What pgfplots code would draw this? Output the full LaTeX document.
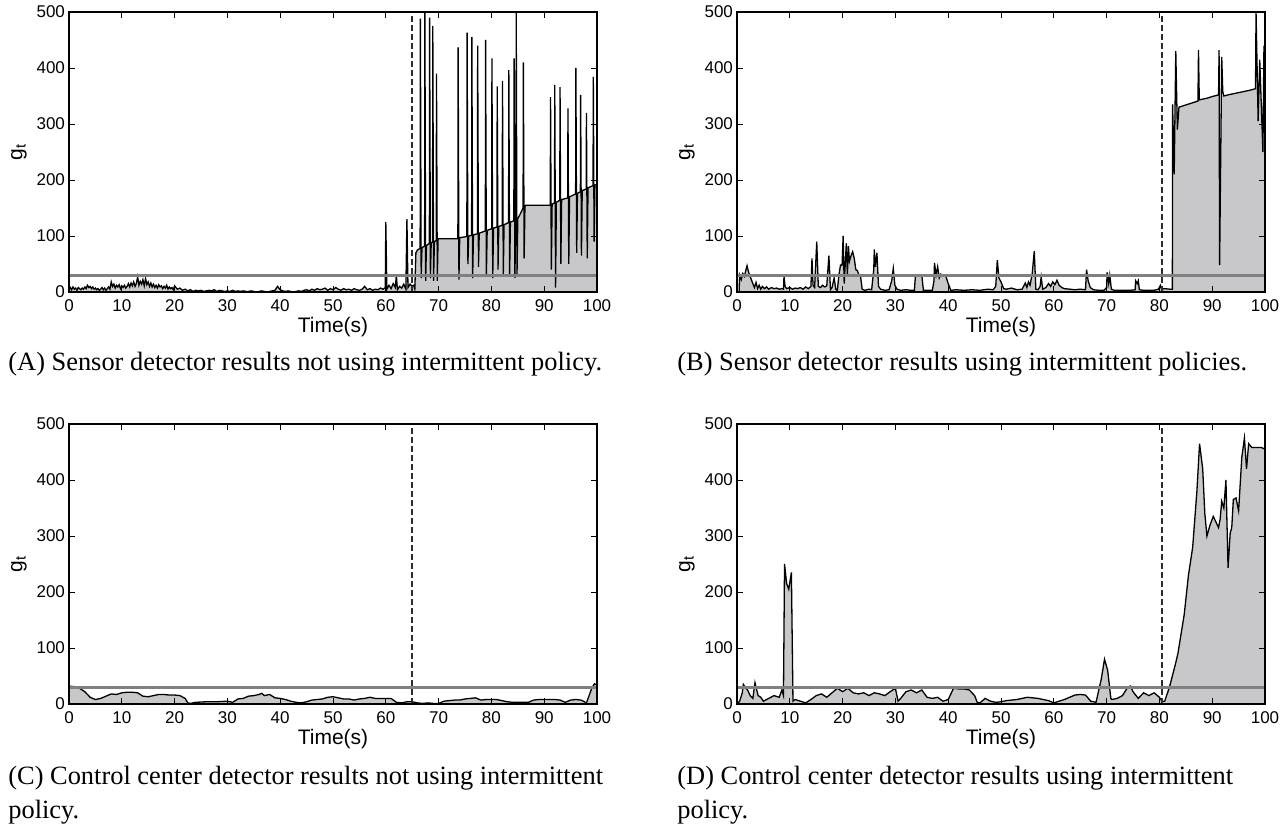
\documentclass[border=0pt]{standalone}
\usepackage{pgfplots}
\pgfplotsset{compat=1.18}
\usepackage{pgfplotstable}
\usepackage{fontspec}
\setmainfont{Liberation Serif}
\newfontfamily\arial{Liberation Sans}
\definecolor{fillgray}{RGB}{200,200,202}
\definecolor{thrgray}{RGB}{128,128,128}
\definecolor{dashgray}{RGB}{45,45,45}

\pgfplotstableread{
x y
0 3
0.25 8
0.5 4
0.75 9
1 5
1.25 7
1.5 3
1.75 8
2 6
2.25 4
2.5 7
2.75 5
3 9
3.25 6
3.5 12
3.75 8
4 10
4.25 6
4.5 9
4.75 5
5 7
5.25 4
5.5 6
5.75 3
6 5
6.25 8
6.5 4
6.75 7
7 3
7.25 6
7.5 9
7.75 5
8 18
8.25 10
8.5 14
8.75 7
9 12
9.25 9
9.5 13
9.75 6
10 11
10.25 8
10.5 12
10.75 7
11 10
11.25 15
11.5 9
11.75 16
12 11
12.25 18
12.5 10
12.75 15
13 27
13.25 12
13.5 19
13.75 14
14 22
14.25 11
14.5 24
14.75 13
15 18
15.25 10
15.5 16
15.75 9
16 14
16.25 8
16.5 12
16.75 7
17 13
17.25 9
17.5 11
17.75 6
18 10
18.25 7
18.5 12
18.75 5
19 9
19.25 6
19.5 8
19.75 4
20 11
20.5 5
21 7
21.5 3
22 5
22.5 2
23 4
23.5 1
24 3
24.5 2
25 3
25.5 1
26 2
26.5 3
27 2
27.5 4
28 1
28.5 3
29 2
29.5 1
30 2
30.5 1
31 3
31.5 1
32 2
32.5 1
33 2
33.5 1
34 1
34.5 2
35 1
35.5 0
36 1
36.5 2
37 1
37.5 0
38 1
38.5 2
39 3
39.5 10
40 4
40.5 2
41 1
41.5 2
42 1
42.5 0
43 1
43.5 2
44 1
44.5 3
45 4
45.5 2
46 5
46.5 3
47 6
47.5 4
48 5
48.5 7
49 3
49.5 6
50 4
50.5 8
51 5
51.5 3
52 6
52.5 4
53 5
53.5 3
54 6
54.5 4
55 3
55.5 5
56 10
56.5 4
57 6
57.5 3
58 5
58.5 4
59 7
59.5 5
59.9 8
60 125
60.2 5
60.6 12
61 6
61.4 15
61.8 8
62 30
62.2 4
62.6 10
63 7
63.4 14
63.8 5
64 130
64.2 8
64.6 14
65 10
65.3 12
65.5 5
65.7 70
66 75
66.5 78
66.55 488
66.7 25
66.85 79
67 80
67.35 82
67.4 500
67.55 20
67.7 83
68 85
68.25 87
68.3 490
68.45 25
68.6 88
68.85 89
68.9 475
69.05 20
69.2 90
69.55 92
69.6 390
69.75 20
69.9 94
70 95
73.65 95
73.7 437
73.85 22
74 97
75.35 99
75.4 463
75.55 50
75.7 100
76.25 101
76.3 455
76.45 25
76.6 102
77.35 104
77.4 440
77.55 45
77.7 105
78.85 109
78.9 450
79.05 30
79.2 110
80.05 113
80.1 417
80.25 25
80.4 114
81.05 116
81.1 367
81.25 40
81.4 117
82.05 119
82.1 377
82.25 30
82.4 120
83.25 124
83.3 396
83.45 30
83.6 125
84.25 127
84.3 417
84.45 25
84.6 128
84.65 129
84.7 500
84.85 30
85 131
85.5 140
86 150
86.05 410
86.2 60
86.35 152
86.5 155
91.15 155
91.2 348
91.35 40
91.5 157
91.95 159
92 370
92.15 8
92.3 160
92.95 164
93 366
93.15 50
93.3 165
94.45 168
94.5 328
94.65 50
94.8 170
95.95 175
96 400
96.15 70
96.3 176
96.85 179
96.9 352
97.05 65
97.2 181
97.95 184
98 320
98.15 60
98.3 186
99.25 190
99.3 384
99.45 90
99.6 191
100 192
}\dataA

\pgfplotstableread{
x y
0 0
0.4 0
0.5 30
0.8 22
1.1 33
1.4 28
1.7 40
1.9 47
2.2 35
2.6 25
3 15
3.3 8
3.6 17
3.9 6
4.2 12
4.5 5
4.8 10
5.2 6
5.6 9
6 5
6.5 8
7 6
7.5 7
8 5
8.5 6
8.8 5
8.9 28
9.1 10
9.4 6
10 8
10.5 5
11 7
11.5 6
12 8
12.5 5
13 9
13.5 6
14 10
14.2 60
14.4 12
14.7 8
15.1 90
15.4 10
15.8 8
16.2 12
16.6 9
17 11
17.4 65
17.7 4
18 8
18.4 25
18.7 5
19 3
19.3 30
19.6 48
19.9 48
20.1 100
20.3 15
20.5 50
20.7 87
20.9 30
21.1 82
21.3 55
21.6 65
21.9 72
22.2 60
22.5 40
22.8 38
23.1 30
23.4 28
23.7 5
24.2 3
25 5
25.5 4
25.9 40
26 76
26.2 45
26.5 70
26.8 10
27.2 5
28 3
28.8 4
29.3 20
29.6 42
29.9 12
30.3 5
31 3
32 4
33 3
33.6 3
33.8 30
34.5 30
35 30
35.3 3
36 3
37 3
37.3 20
37.4 52
37.7 30
38 45
38.3 25
38.6 32
39 28
39.5 30
40 15
40.5 3
41.5 4
43 3
44.5 4
46 3
47.5 5
48.5 4
49 10
49.3 57
49.6 25
50 18
50.5 6
51 5
52 7
53 4
54 5
54.6 16
54.9 8
55.2 18
55.5 12
55.9 32
56.3 73
56.6 5
57 4
57.4 10
57.6 27
57.9 5
58.5 8
59 15
59.4 10
59.8 18
60.2 13
60.6 21
61 12
61.5 8
62 6
63 5
64 4
65 5
66 4
66.2 40
66.5 20
66.9 8
67.5 4
68.5 3
69.5 3
70 8
70.1 35
70.4 15
70.6 30
70.9 5
71.5 3
73 3
74.5 3
75.4 4
75.5 20
75.8 15
76 20
76.2 4
77 3
78 3
79 3
79.8 5
80.2 12
80.4 5
81 6
82 5
82.45 5
82.5 335
82.8 210
83.1 430
83.4 290
83.7 330
85 334
86 337
87.3 341
87.4 432
87.55 343
88 344
89 346
90 349
91.2 352
91.3 432
91.4 48
91.8 420
92 358
92.2 350
93 352
94 354
95 356
96 358
97 360
98.2 363
98.3 500
98.7 305
99.0 415
99.2 360
99.6 250
99.8 440
100 410
}\dataB

\pgfplotstableread{
x y
0 32
1 31
2 28
3 22
4 12
5 8
6 10
7 14
8 18
9 17
10 20
11 21
12 21
13 20
14 14
15 13
16 15
17 17
18 17
19 16
20 16
21 15
22 10
22.5 2
23 1
24 3
26 4
28 4
30 5
31 3
32 9
33 10
34 14
35 15
36 17
36.5 19
37 15
38 17
39 11
40 10
41 8
42 5
43 3
44 2
45 4
46 7
47 8
48 9
49 12
50 13
51 11
52 9
53 9
54 7
55 9
56 10
57 12
58 10
59 10
60 10
61 10
62 3
63 2
64 4
65 4
66 2
67 1
68 2
69 1
70 1
71 5
72 6
73 7
74 7
75 9
76 10
77 11
78 7
79 8
80 8
81 8
82 6
83 4
84 3
85 3
86 3
87 3
88 7
89 8
90 8
91 8
92 8
93 7
94 3
95 7
96 8
97 7
98 2
99 28
99.5 36
100 34
}\dataC

\pgfplotstableread{
x y
0 0
0.5 5
1 20
1.2 35
1.7 28
2 25
2.5 15
3 10
3.4 38
4 15
4.5 12
5 5
6 10
7 15
8 12
8.5 25
8.8 15
9 250
9.4 215
9.8 205
10.3 235
10.6 5
11 8
12 5
13 2
14 8
15 15
16 18
17 12
18 20
19 28
20 22
21 28
22 20
23 18
24 20
25 15
26 20
27 18
28 15
29 22
30 28
30.5 5
31 10
32 22
33 25
34 20
35 25
36 12
37 10
38 12
39 5
40 8
41 28
42 27
43 27
44 25
45 15
45.5 3
46 2
47 10
48 5
49 3
50 4
51 6
53 8
55 12
57 10
59 6
60 2
61 5
62 8
63 12
64 16
65 17
66 16
67 5
68 3
69 45
69.6 80
70.2 60
70.8 10
71 8
72 10
73 15
74 30
74.5 32
75 22
76 10
77 20
78 15
79 20
80 12
80.5 5
81 5
81.9 30
83 70
83.5 90
84.7 160
85.5 230
86.3 280
87.1 380
87.6 465
88.2 420
88.6 340
89.0 300
89.6 320
90.2 335
90.7 325
91.2 315
91.5 330
91.8 362
92.2 350
92.6 400
93.0 243
93.4 305
93.7 315
94.0 365
94.5 368
95.0 345
95.6 440
96.1 475
96.5 420
96.9 465
97.5 458
98.5 458
99.3 458
100 455
}\dataD

\pgfplotsset{
  panel/.style={
    scale only axis, width=264pt, height=140pt,
    xmin=0, xmax=100, ymin=0, ymax=500,
    xtick={0,10,...,100}, ytick={0,100,...,500},
    tick align=inside, major tick length=3pt,
    axis on top,
    axis line style={line width=0.55pt, black},
    every tick/.style={black, line width=0.45pt},
    /pgf/number format/assume math mode=true,
    tick label style={font=\arial\fontsize{8.5}{10}\selectfont},
    yticklabel style={xshift=1.5pt},
    xticklabel style={yshift=-0.5pt},
    label style={font=\arial\fontsize{10.5}{12}\selectfont},
    xlabel={Time(s)},
    ylabel={g\textsubscript{t}},
    xlabel style={at={(axis description cs:0.5,-0.125)}, anchor=center},
    ylabel style={at={(axis description cs:-0.095,0.5)}, anchor=center},
  },
}

\begin{document}
\begin{tikzpicture}
\useasboundingbox (0,0) rectangle (644pt,412pt);

% (A)
\begin{axis}[panel, at={(34.5pt,266pt)}, anchor=south west]
\addplot[fill=fillgray, draw=none] table[x=x,y=y]{\dataA} \closedcycle;
\addplot[black, line width=0.65pt] table[x=x,y=y]{\dataA};
\addplot[thrgray, line width=1.4pt] coordinates {(0,30) (100,30)};
\addplot[dashgray, line width=1pt, dash pattern=on 3pt off 1.5pt] coordinates {(65,0) (65,500)};
\end{axis}

% (B)
\begin{axis}[panel, at={(368.5pt,266pt)}, anchor=south west]
\addplot[fill=fillgray, draw=none] table[x=x,y=y]{\dataB} \closedcycle;
\addplot[black, line width=0.65pt] table[x=x,y=y]{\dataB};
\addplot[thrgray, line width=1.4pt] coordinates {(0,30) (100,30)};
\addplot[dashgray, line width=1pt, dash pattern=on 3pt off 1.5pt] coordinates {(80.4,0) (80.4,500)};
\end{axis}

% (C)
\begin{axis}[panel, at={(34.5pt,60pt)}, anchor=south west]
\addplot[fill=fillgray, draw=none] table[x=x,y=y]{\dataC} \closedcycle;
\addplot[black, line width=0.65pt] table[x=x,y=y]{\dataC};
\addplot[thrgray, line width=1.4pt] coordinates {(0,30) (100,30)};
\addplot[dashgray, line width=1pt, dash pattern=on 3pt off 1.5pt] coordinates {(65,0) (65,500)};
\end{axis}

% (D)
\begin{axis}[panel, at={(368.5pt,60pt)}, anchor=south west]
\addplot[fill=fillgray, draw=none] table[x=x,y=y]{\dataD} \closedcycle;
\addplot[black, line width=0.65pt] table[x=x,y=y]{\dataD};
\addplot[thrgray, line width=1.4pt] coordinates {(0,30) (100,30)};
\addplot[dashgray, line width=1pt, dash pattern=on 3pt off 1.5pt] coordinates {(80.4,0) (80.4,500)};
\end{axis}

\begin{scope}[every node/.style={inner sep=0pt, font=\fontsize{13.2}{17}\selectfont, align=left}]
\node[anchor=base west] at (4pt,226.5pt) {(A) Sensor detector results not using intermittent policy.};
\node[anchor=base west] at (338.5pt,226.5pt) {(B) Sensor detector results using intermittent policies.};
\node[anchor=base west] at (4pt,20pt) {(C) Control center detector results not using intermittent};
\node[anchor=base west] at (4pt,3pt) {policy.};
\node[anchor=base west] at (338.5pt,20pt) {(D) Control center detector results using intermittent};
\node[anchor=base west] at (338.5pt,3pt) {policy.};
\end{scope}
\end{tikzpicture}
\end{document}
